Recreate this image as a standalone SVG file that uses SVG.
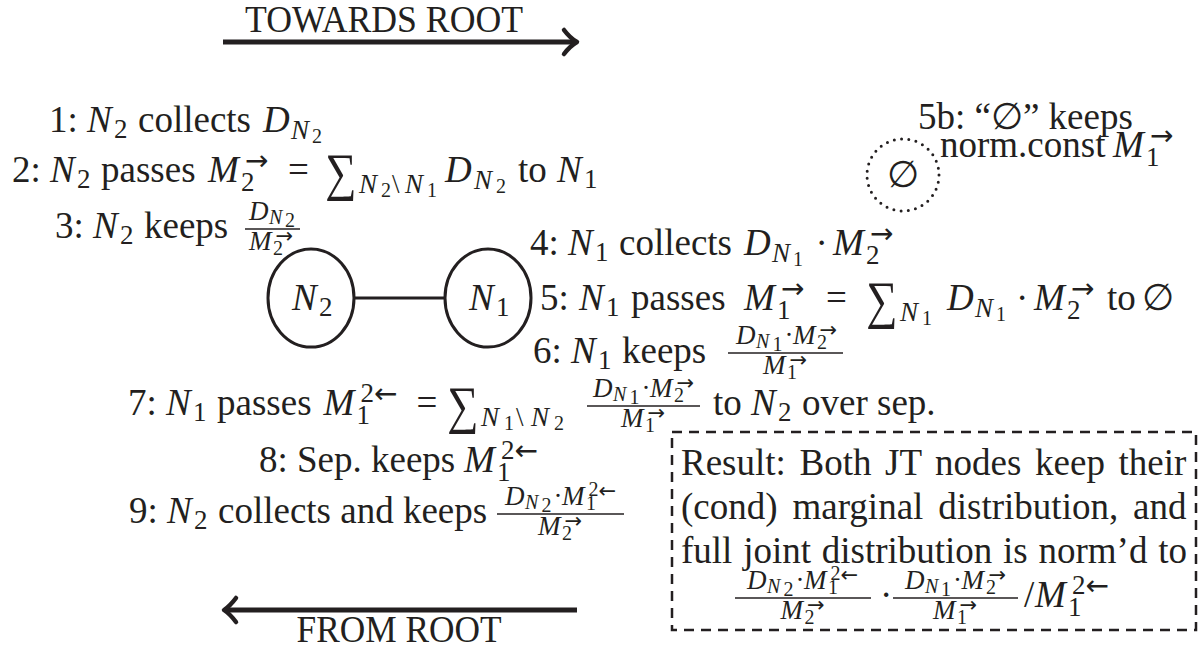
<svg xmlns="http://www.w3.org/2000/svg" width="1202" height="648" viewBox="0 0 1202 648">
<style>
.t{font-family:"Liberation Serif","DejaVu Serif",serif;font-size:37px;fill:#231f20}
.i{font-style:italic}
.s{font-size:27px}
.x{font-size:20px}
.a{font-family:"DejaVu Sans",sans-serif;font-size:28px}
.ax{font-family:"DejaVu Sans",sans-serif;font-size:21px}
.sum{font-size:44px}
.lbl{font-family:"Liberation Serif",serif;font-size:38px;fill:#231f20}
.arrowline{stroke:#231f20;stroke-width:5;fill:none}
.head{stroke:#231f20;stroke-width:4.5;fill:none;stroke-linecap:round;stroke-linejoin:round}
.node{fill:#fff;stroke:#231f20;stroke-width:3}
.edge{stroke:#231f20;stroke-width:3;fill:none}
.bar{stroke:#231f20;stroke-width:1.5}
.dots{fill:none;stroke:#231f20;stroke-width:3;stroke-linecap:round;stroke-dasharray:0 7.3}
.box{fill:none;stroke:#231f20;stroke-width:2.5;stroke-dasharray:10 7}
</style>
<rect width="1202" height="648" fill="#fff"/>

<g id="towards-root">
<text class="lbl" x="384" y="32" text-anchor="middle" textLength="278" lengthAdjust="spacingAndGlyphs">TOWARDS ROOT</text>
<line class="arrowline" x1="223" y1="42" x2="575" y2="42"/>
<path class="head" d="M564,30 Q570,38 577,42 Q570,46 564,54"/>
</g>

<g id="from-root">
<line class="arrowline" x1="225" y1="610" x2="577" y2="610"/>
<path class="head" d="M236,598 Q230,606 224,610 Q230,614 236,622"/>
<text class="lbl" x="399" y="642" text-anchor="middle" textLength="205" lengthAdjust="spacingAndGlyphs">FROM ROOT</text>
</g>

<g id="connectors">
<line class="edge" x1="354" y1="298" x2="445" y2="298"/>
</g>

<g id="node-N2">
<ellipse class="node" cx="311" cy="298" rx="43" ry="49"/>
<text class="t"><tspan class="i" x="292" y="310">N</tspan><tspan class="s" x="319" y="316">2</tspan></text>
</g>

<g id="node-N1">
<ellipse class="node" cx="488" cy="298" rx="43" ry="49"/>
<text class="t"><tspan class="i" x="469" y="310">N</tspan><tspan class="s" x="496" y="316">1</tspan></text>
</g>

<g id="node-empty">
<circle class="dots" cx="903" cy="175" r="36"/>
<text class="t" x="903" y="187" text-anchor="middle">∅</text>
</g>

<g id="step5b">
<text class="t" x="918" y="129">5b: “∅” keeps</text>
<text class="t"><tspan x="940" y="157">norm.const</tspan><tspan class="i" x="1113" y="157">M</tspan><tspan class="s" x="1146" y="166">1</tspan><tspan class="a" x="1150" y="145.4">→</tspan></text>
</g>

<g id="step1">
<text class="t"><tspan x="49" y="132">1:</tspan><tspan class="i" x="87" y="132">N</tspan><tspan class="s" x="114" y="138">2</tspan><tspan x="138" y="132">collects</tspan><tspan class="i" x="263" y="132">D</tspan><tspan class="s i" x="291" y="139">N</tspan><tspan class="x" x="312" y="143">2</tspan></text>
</g>

<g id="step2">
<text class="t"><tspan x="12" y="182">2:</tspan><tspan class="i" x="50" y="182">N</tspan><tspan class="s" x="77" y="188">2</tspan><tspan x="101" y="182">passes</tspan><tspan class="i" x="208" y="182">M</tspan><tspan class="s" x="241" y="191">2</tspan><tspan class="a" x="245" y="170.4">→</tspan><tspan x="288" y="182">=</tspan><tspan class="s i" x="359" y="193">N</tspan><tspan class="x" x="381" y="197">2</tspan><tspan class="s" x="392" y="193">\</tspan><tspan class="s i" x="405" y="193">N</tspan><tspan class="x" x="427" y="197">1</tspan><tspan class="i" x="445" y="182">D</tspan><tspan class="s i" x="474" y="189">N</tspan><tspan class="x" x="496" y="193">2</tspan><tspan x="518" y="182">to</tspan><tspan class="i" x="557" y="182">N</tspan><tspan class="s" x="584" y="188">1</tspan></text>
<text class="t sum" transform="translate(325,190) scale(1,1.2)">∑</text>
</g>

<g id="step3">
<text class="t"><tspan x="55" y="238">3:</tspan><tspan class="i" x="93" y="238">N</tspan><tspan class="s" x="120" y="244">2</tspan><tspan x="144" y="238">keeps</tspan></text>
<text class="t"><tspan class="s i" x="249" y="220">D</tspan><tspan class="x i" x="269" y="224">N</tspan><tspan class="x" x="285" y="227">2</tspan></text>
<line class="bar" x1="245" y1="229" x2="300" y2="229"/>
<text class="t"><tspan class="s i" x="249" y="250">M</tspan><tspan class="x" x="273" y="255">2</tspan><tspan class="ax" x="275.5" y="243.3">→</tspan></text>
</g>

<g id="step4">
<text class="t"><tspan x="530" y="255">4:</tspan><tspan class="i" x="568" y="255">N</tspan><tspan class="s" x="595" y="261">1</tspan><tspan x="619" y="255">collects</tspan><tspan class="i" x="744" y="255">D</tspan><tspan class="s i" x="772" y="262">N</tspan><tspan class="x" x="793" y="266">1</tspan><tspan x="815.5" y="255">·</tspan><tspan class="i" x="833" y="255">M</tspan><tspan class="s" x="866" y="264">2</tspan><tspan class="a" x="870" y="243.4">→</tspan></text>
</g>

<g id="step5">
<text class="t"><tspan x="540" y="310">5:</tspan><tspan class="i" x="579" y="310">N</tspan><tspan class="s" x="606" y="316">1</tspan><tspan x="631" y="310">passes</tspan><tspan class="i" x="744" y="310">M</tspan><tspan class="s" x="777" y="319">1</tspan><tspan class="a" x="781" y="298.4">→</tspan><tspan x="826" y="310">=</tspan><tspan class="s i" x="900" y="321">N</tspan><tspan class="x" x="922" y="325">1</tspan><tspan class="i" x="947" y="310">D</tspan><tspan class="s i" x="975" y="317">N</tspan><tspan class="x" x="996" y="321">1</tspan><tspan x="1016" y="310">·</tspan><tspan class="i" x="1034" y="310">M</tspan><tspan class="s" x="1067" y="319">2</tspan><tspan class="a" x="1071" y="298.4">→</tspan><tspan x="1107" y="310">to</tspan><tspan x="1142" y="310">∅</tspan></text>
<text class="t sum" transform="translate(866,318) scale(1,1.2)">∑</text>
</g>

<g id="step6">
<text class="t"><tspan x="533" y="363">6:</tspan><tspan class="i" x="571" y="363">N</tspan><tspan class="s" x="598" y="369">1</tspan><tspan x="622" y="363">keeps</tspan></text>
<text class="t"><tspan class="s i" x="736" y="344">D</tspan><tspan class="x i" x="756" y="348">N</tspan><tspan class="x" x="772.5" y="351">1</tspan><tspan class="s" x="784.5" y="344">·</tspan><tspan class="s i" x="793" y="344">M</tspan><tspan class="x" x="817" y="349">2</tspan><tspan class="ax" x="819.5" y="337.3">→</tspan></text>
<line class="bar" x1="728" y1="353" x2="843" y2="353"/>
<text class="t"><tspan class="s i" x="763" y="374">M</tspan><tspan class="x" x="787" y="379">1</tspan><tspan class="ax" x="789.5" y="367.3">→</tspan></text>
</g>

<g id="step7">
<text class="t"><tspan x="128" y="415">7:</tspan><tspan class="i" x="166" y="415">N</tspan><tspan class="s" x="193" y="421">1</tspan><tspan x="217" y="415">passes</tspan><tspan class="i" x="323.6" y="415">M</tspan><tspan class="s" x="356.5" y="424">1</tspan><tspan class="s" x="360.5" y="401.6">2</tspan><tspan class="a" x="374" y="403.4">←</tspan><tspan x="416.5" y="415">=</tspan><tspan class="s i" x="481" y="426">N</tspan><tspan class="x" x="504" y="430">1</tspan><tspan class="s" x="516" y="426">\</tspan><tspan class="s i" x="531" y="426">N</tspan><tspan class="x" x="554" y="430">2</tspan></text>
<text class="t sum" transform="translate(447,423) scale(1,1.2)">∑</text>
<text class="t"><tspan class="s i" x="593" y="397">D</tspan><tspan class="x i" x="613" y="401">N</tspan><tspan class="x" x="629.5" y="404">1</tspan><tspan class="s" x="641.5" y="397">·</tspan><tspan class="s i" x="650" y="397">M</tspan><tspan class="x" x="674" y="402">2</tspan><tspan class="ax" x="676.5" y="390.3">→</tspan></text>
<line class="bar" x1="587" y1="406" x2="700" y2="406"/>
<text class="t"><tspan class="s i" x="621" y="427">M</tspan><tspan class="x" x="645" y="432">1</tspan><tspan class="ax" x="647.5" y="420.3">→</tspan></text>
<text class="t"><tspan x="713" y="415">to</tspan><tspan class="i" x="751" y="415">N</tspan><tspan class="s" x="778" y="421">2</tspan><tspan x="802" y="415">over sep.</tspan></text>
</g>

<g id="step8">
<text class="t"><tspan x="259" y="472">8:</tspan><tspan x="297" y="472">Sep. keeps</tspan><tspan class="i" x="464" y="472">M</tspan><tspan class="s" x="497" y="481">1</tspan><tspan class="s" x="501" y="458.6">2</tspan><tspan class="a" x="514.5" y="460.4">←</tspan></text>
</g>

<g id="step9">
<text class="t"><tspan x="129" y="523">9:</tspan><tspan class="i" x="167" y="523">N</tspan><tspan class="s" x="194" y="529">2</tspan><tspan x="218" y="523">collects and keeps</tspan></text>
<text class="t"><tspan class="s i" x="505" y="505">D</tspan><tspan class="x i" x="525" y="509">N</tspan><tspan class="x" x="541.5" y="512">2</tspan><tspan class="s" x="553.5" y="505">·</tspan><tspan class="s i" x="562" y="505">M</tspan><tspan class="x" x="586" y="510">1</tspan><tspan class="x" x="588.5" y="496">2</tspan><tspan class="ax" x="598.5" y="498.3">←</tspan></text>
<line class="bar" x1="497" y1="514" x2="624" y2="514"/>
<text class="t"><tspan class="s i" x="538" y="535">M</tspan><tspan class="x" x="562" y="540">2</tspan><tspan class="ax" x="564.5" y="528.3">→</tspan></text>
</g>

<g id="result">
<rect class="box" x="672" y="432" width="524" height="198"/>
<text class="t" x="681" y="475" word-spacing="4.4">Result: Both JT nodes keep their</text>
<text class="t" x="681" y="519" word-spacing="5.7">(cond) marginal distribution, and</text>
<text class="t" x="681" y="563" word-spacing="1.5">full joint distribution is norm’d to</text>
<text class="t"><tspan class="s i" x="747" y="589">D</tspan><tspan class="x i" x="767" y="593">N</tspan><tspan class="x" x="783.5" y="596">2</tspan><tspan class="s" x="795.5" y="589">·</tspan><tspan class="s i" x="804" y="589">M</tspan><tspan class="x" x="828" y="594">1</tspan><tspan class="x" x="830.5" y="580">2</tspan><tspan class="ax" x="840.5" y="582.3">←</tspan></text>
<line class="bar" x1="735" y1="598" x2="871" y2="598"/>
<text class="t"><tspan class="s i" x="780.5" y="619">M</tspan><tspan class="x" x="804.5" y="624">2</tspan><tspan class="ax" x="807" y="612.3">→</tspan></text>
<text class="t" x="880" y="607">·</text>
<text class="t"><tspan class="s i" x="905" y="589">D</tspan><tspan class="x i" x="925" y="593">N</tspan><tspan class="x" x="941" y="596">1</tspan><tspan class="s" x="953" y="589">·</tspan><tspan class="s i" x="961.6" y="589">M</tspan><tspan class="x" x="986" y="594">2</tspan><tspan class="ax" x="988.5" y="582.3">→</tspan></text>
<line class="bar" x1="893" y1="598" x2="1018" y2="598"/>
<text class="t"><tspan class="s i" x="933" y="619">M</tspan><tspan class="x" x="957" y="624">1</tspan><tspan class="ax" x="959.5" y="612.3">→</tspan></text>
<text class="t"><tspan x="1024" y="607">/</tspan><tspan class="i" x="1035" y="607">M</tspan><tspan class="s" x="1068" y="616">1</tspan><tspan class="s" x="1072" y="593.6">2</tspan><tspan class="a" x="1085.5" y="595.4">←</tspan></text>
</g>
</svg>
